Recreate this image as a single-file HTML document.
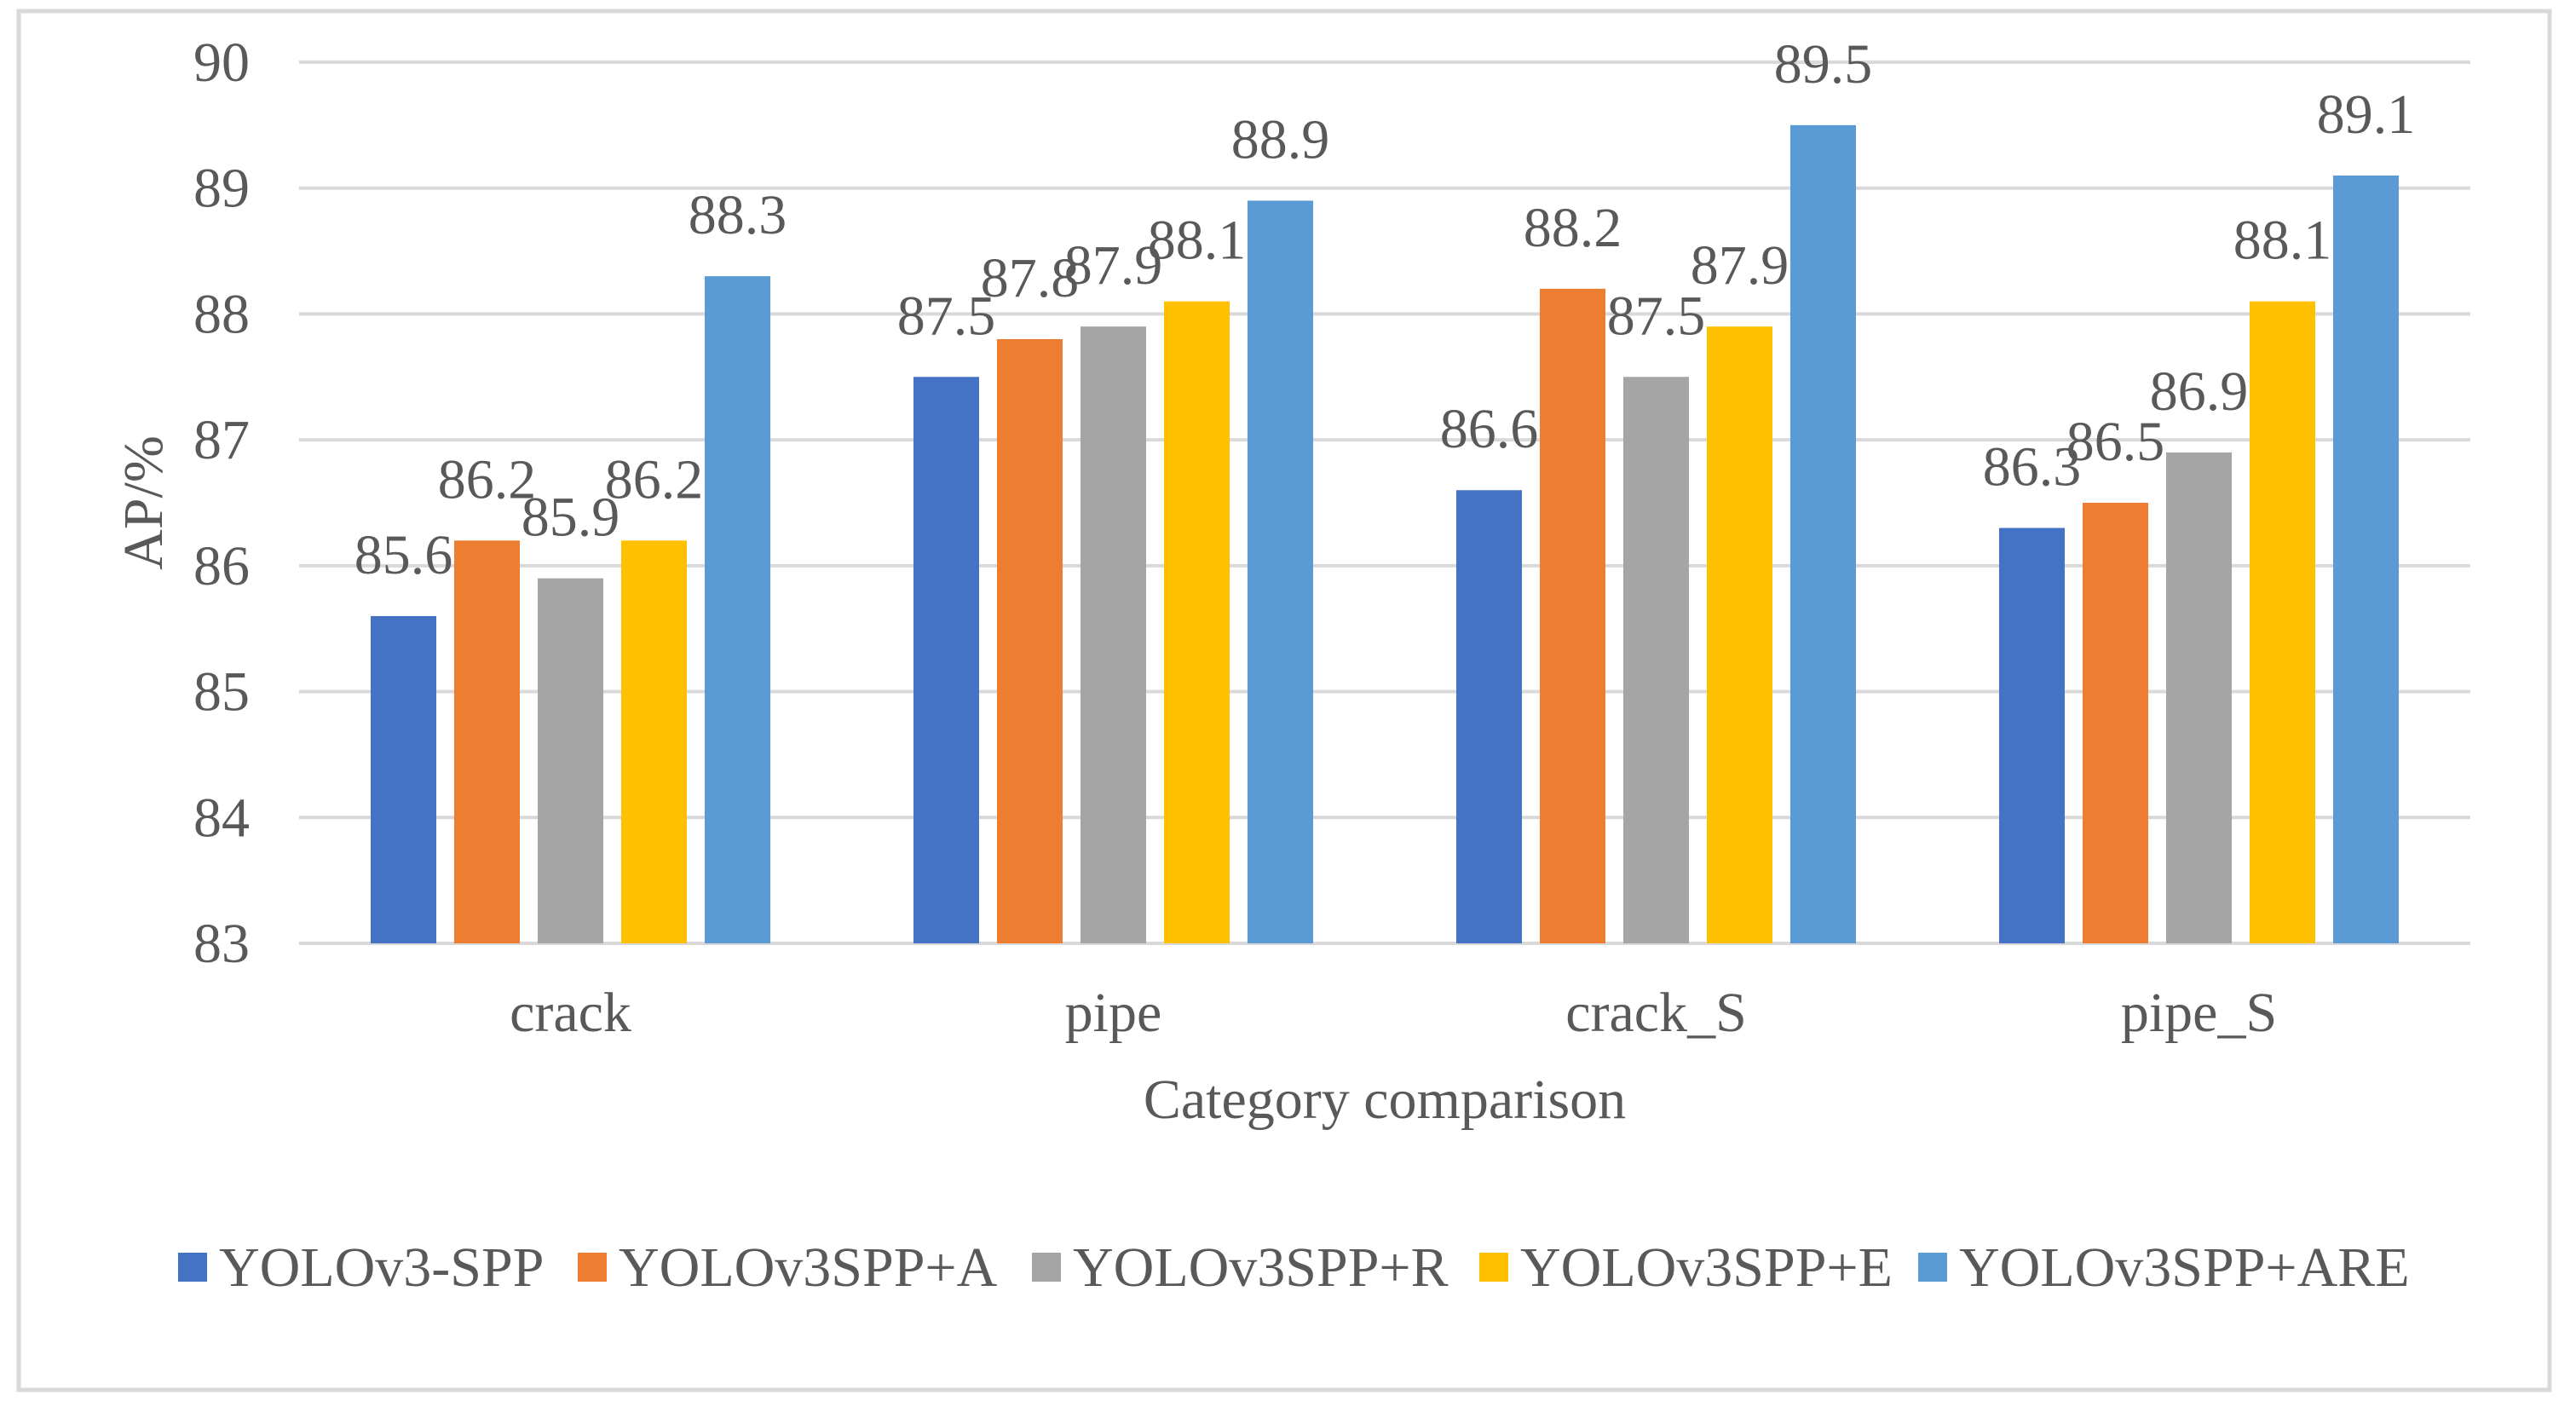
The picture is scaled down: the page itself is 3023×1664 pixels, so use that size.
<!DOCTYPE html>
<html><head><meta charset="utf-8"><style>
html,body{margin:0;padding:0;background:#fff;}
svg text{font-family:"Liberation Serif",serif;fill:#595959;}
</style></head><body>
<svg id="chart" width="3023" height="1659" viewBox="0 0 3023 1659" xmlns="http://www.w3.org/2000/svg">
<rect x="22" y="13" width="2970" height="1618" fill="#fff" stroke="#D9D9D9" stroke-width="5"/>
<g id="grid"></g><g id="bars"></g><g id="labels"></g><g id="legend"></g>
<text x="0" y="0" font-size="66" text-anchor="middle" transform="translate(190,590) rotate(-90)">AP/%</text>
<text x="1625" y="1312" font-size="66" text-anchor="middle">Category comparison</text>
</svg>
<script>
const categories = ["crack", "pipe", "crack_S", "pipe_S"];
const seriesNames = ["YOLOv3-SPP", "YOLOv3SPP+A", "YOLOv3SPP+R", "YOLOv3SPP+E", "YOLOv3SPP+ARE"];
const sSPP = [85.6, 87.5, 86.6, 86.3];
const sA = [86.2, 87.8, 88.2, 86.5];
const sR = [85.9, 87.9, 87.5, 86.9];
const sE = [86.2, 88.1, 87.9, 88.1];
const sARE = [88.3, 88.9, 89.5, 89.1];
const yTicks = [83, 84, 85, 86, 87, 88, 89, 90];

const series = [sSPP, sA, sR, sE, sARE];
const colors = ["#4472C4", "#ED7D31", "#A5A5A5", "#FFC000", "#5B9BD5"];
const NS = "http://www.w3.org/2000/svg";
const L = 351, R = 2899, T = 73, B = 1107;
const yMin = 83, yMax = 90;
function y(v){ return B - (v - yMin) / (yMax - yMin) * (B - T); }
const gw = (R - L) / categories.length;
function groupCenter(i){ return L + gw * (i + 0.5); }
const bw = 77, pitch = 98;
function barX(i, s){ return groupCenter(i) - (series.length * pitch - (pitch - bw)) / 2 + s * pitch; }
function mk(tag, attrs, parent){ const e = document.createElementNS(NS, tag); for (const k in attrs) e.setAttribute(k, attrs[k]); parent.appendChild(e); return e; }

const grid = document.getElementById("grid");
yTicks.forEach(t => {
  const ln = mk("line", {x1: L, x2: R, y1: y(t), y2: y(t), stroke: "#D9D9D9", "stroke-width": 4}, grid);
  
  
  const tx = mk("text", {x: 293, y: y(t) + 22, "font-size": 66, "text-anchor": "end"}, grid);
  tx.textContent = t;
  
  
});

const bars = document.getElementById("bars");
const labels = document.getElementById("labels");
categories.forEach((c, i) => {
  const ct = mk("text", {x: groupCenter(i), y: 1210, "font-size": 66, "text-anchor": "middle"}, labels);
  ct.textContent = c;
  
  
  series.forEach((s, j) => {
    const v = s[i];
    const r = mk("rect", {x: barX(i, j), y: y(v), width: bw, height: y(yMin) - y(v), fill: colors[j]}, bars);
    
    
    const lt = mk("text", {x: barX(i, j) + bw / 2, y: y(v) - 50, "font-size": 66, "text-anchor": "middle"}, labels);
    lt.textContent = v.toFixed(1);
    
    
  });
});

const legend = document.getElementById("legend");
const legX = [209, 678, 1211, 1736, 2251];
seriesNames.forEach((n, j) => {
  const g = mk("g", {}, legend);
  
  
  mk("rect", {x: legX[j], y: 1470, width: 34, height: 34, fill: colors[j]}, g);
  const t = mk("text", {x: legX[j] + 48, y: 1509, "font-size": 66}, g);
  t.textContent = n;
});
</script>
</body></html>
